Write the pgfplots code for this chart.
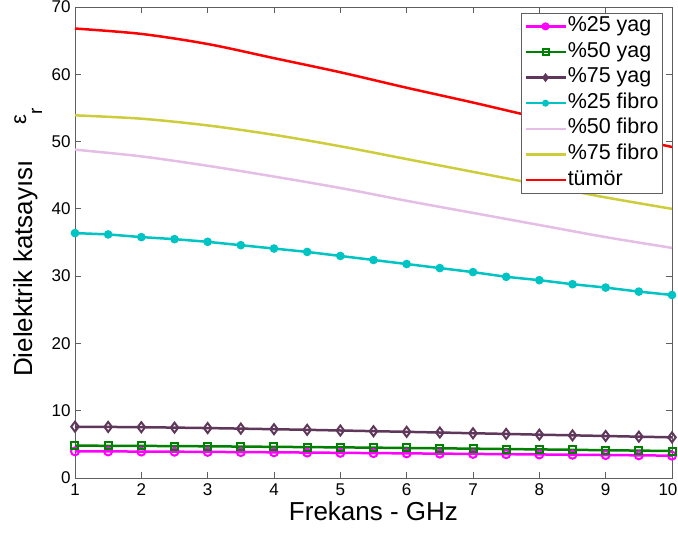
\documentclass[border=0pt]{standalone}
\usepackage{fontspec}
\setmainfont{Liberation Sans}
\usepackage{pgfplots}
\pgfplotsset{compat=1.18}

\definecolor{cmag}{RGB}{255,0,255}
\definecolor{cgrn}{RGB}{0,128,0}
\definecolor{cpur}{RGB}{95,55,90}
\definecolor{ccya}{RGB}{0,195,195}
\definecolor{cpnk}{RGB}{228,190,228}
\definecolor{cyel}{RGB}{205,205,60}
\definecolor{cred}{RGB}{255,0,0}
\definecolor{caxis}{RGB}{95,95,95}

\begin{document}
\begin{tikzpicture}
% fixed page frame around the axis box
\path[use as bounding box] (-75pt,-55pt) rectangle (603pt,478pt);
\begin{axis}[
  at={(0,0)}, anchor=south west,
  scale only axis, width=597pt, height=471pt,
  xmin=1, xmax=10, ymin=0, ymax=70,
  xtick={1,...,10}, ytick={0,10,...,70},
  xticklabels={1,2,3,4,5,6,7,8,9,{\hspace*{-8pt}10}},
  tick align=inside, major tick length=6pt,
  axis line style={caxis, line width=0.8pt},
  every tick/.style={caxis, line width=0.8pt},
  /pgf/number format/assume math mode=true,
  ticklabel style={font=\fontsize{17}{20}\selectfont, text=black},
  xticklabel style={yshift=-2pt},
  yticklabel style={xshift=-1pt},
  clip=false,
  xlabel={Frekans - GHz},
  xlabel style={at={(axis description cs:0.5,0)}, anchor=base, yshift=-42pt,
    font=\fontsize{26}{30}\selectfont},
  ylabel={Dielektrik katsayısı\hspace{36pt}\raisebox{6pt}{\fontsize{22}{22}\selectfont ε}\raisebox{-10pt}{\fontsize{19}{19}\selectfont r}},
  ylabel style={at={(axis description cs:-0.072,0.5)}, anchor=base,
    font=\fontsize{26}{30}\selectfont},
  legend cell align=left,
  legend style={at={(axis description cs:1,1)}, anchor=north east,
    xshift=-9pt, yshift=-6pt, draw=caxis, line width=0.8pt,
    font=\fontsize{21.5}{25}\selectfont, inner xsep=3pt, inner ysep=2pt,
    row sep=3.6pt,
    nodes={inner sep=1pt, text height=15pt, text depth=5pt}},
  legend image code/.code={%
    \draw[mark repeat=2, mark phase=2, mark size=3pt, #1]
      plot coordinates {(0pt,0pt) (20pt,0pt) (40pt,0pt)};},
  every axis plot/.append style={line width=2.5pt},
]
% dielectric constant of fatty tissue samples
\addplot[cmag, mark=o, mark size=4pt, mark options={line width=2pt}] coordinates {
 (1,3.96) (1.5,3.95) (2,3.93) (2.5,3.91) (3,3.88) (3.5,3.85) (4,3.82) (4.5,3.78)
 (5,3.74) (5.5,3.70) (6,3.66) (6.5,3.62) (7,3.58) (7.5,3.54) (8,3.50) (8.5,3.46)
 (9,3.41) (9.5,3.37) (10,3.32)};
\addlegendentry{\%25 yag}
\addplot[cgrn, mark=square, mark size=3.5pt, mark options={line width=2pt}] coordinates {
 (1,4.80) (1.5,4.79) (2,4.77) (2.5,4.74) (3,4.71) (3.5,4.67) (4,4.63) (4.5,4.59)
 (5,4.55) (5.5,4.51) (6,4.46) (6.5,4.41) (7,4.36) (7.5,4.30) (8,4.25) (8.5,4.19)
 (9,4.13) (9.5,4.07) (10,4.01)};
\addlegendentry{\%50 yag}
\addplot[cpur, mark=diamond, mark size=5pt, mark options={line width=2pt}] coordinates {
 (1,7.62) (1.5,7.59) (2,7.55) (2.5,7.49) (3,7.42) (3.5,7.34) (4,7.25) (4.5,7.16)
 (5,7.06) (5.5,6.96) (6,6.86) (6.5,6.76) (7,6.65) (7.5,6.55) (8,6.44) (8.5,6.34)
 (9,6.24) (9.5,6.14) (10,6.04)};
\addlegendentry{\%75 yag}
% fibroglandular tissue samples
\addplot[ccya, mark=*, mark size=3.8pt, mark options={line width=1pt}] coordinates {
 (1,36.4) (1.5,36.2) (2,35.8) (2.5,35.5) (3,35.1) (3.5,34.6) (4,34.1) (4.5,33.6)
 (5,33.0) (5.5,32.4) (6,31.8) (6.5,31.2) (7,30.6) (7.5,29.9) (8,29.4) (8.5,28.8)
 (9,28.3) (9.5,27.7) (10,27.2)};
\addlegendentry{\%25 fibro}
\addplot[cpnk, smooth] coordinates {
 (1,48.8) (2,47.8) (3,46.4) (4,44.8) (5,43.1) (6,41.2) (7,39.4) (8,37.6) (9,35.8) (10,34.2)};
\addlegendentry{\%50 fibro}
\addplot[cyel, smooth] coordinates {
 (1,53.9) (2,53.4) (3,52.4) (4,51.0) (5,49.3) (6,47.4) (7,45.5) (8,43.6) (9,41.7) (10,40.0)};
\addlegendentry{\%75 fibro}
% tumour tissue
\addplot[cred, smooth] coordinates {
 (1,66.8) (2,66.0) (3,64.5) (4,62.4) (5,60.3) (6,58.0) (7,55.8) (8,53.5) (9,51.3) (10,49.2)};
\addlegendentry{tümör}
\end{axis}
\end{tikzpicture}
\end{document}
